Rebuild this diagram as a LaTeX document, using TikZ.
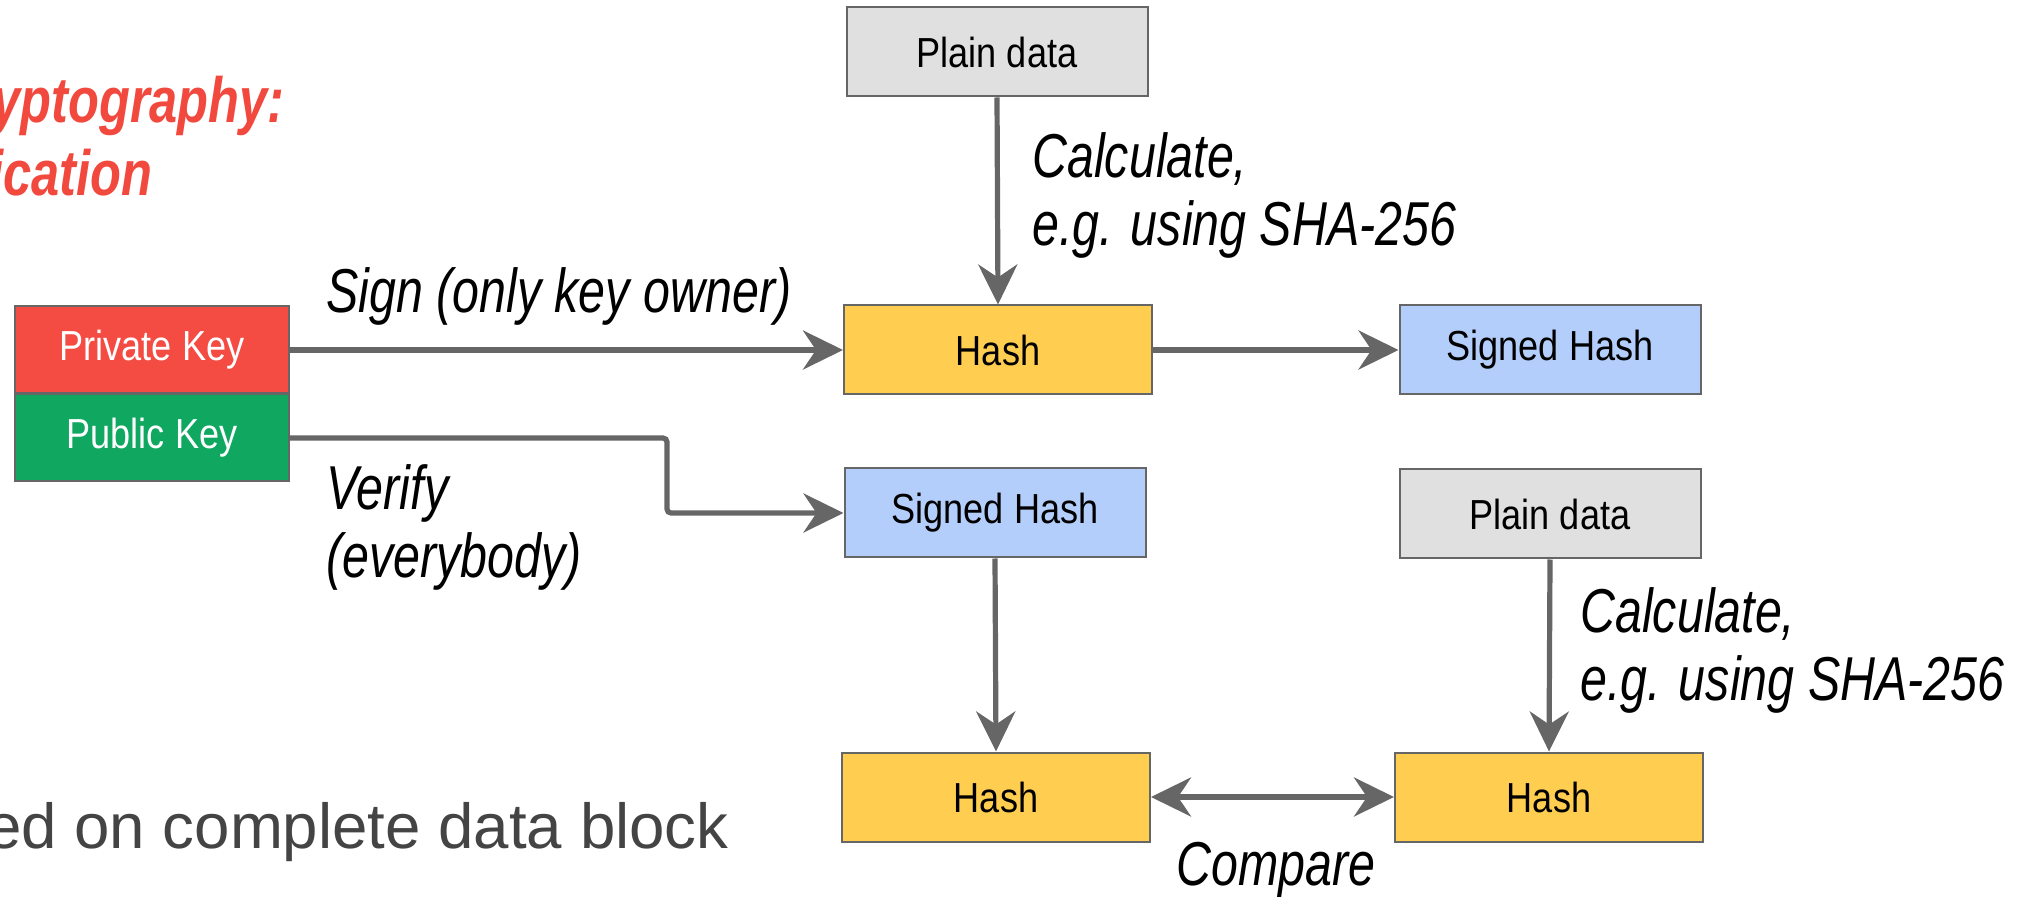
\documentclass[tikz,border=0pt]{standalone}
\usepackage{fontspec}
\setmainfont{Liberation Sans}
\newfontfamily\boxfont[FakeStretch=0.86]{Liberation Sans}
\newfontfamily\notefont[FakeStretch=0.78]{Liberation Sans}
\newfontfamily\headfont[FakeStretch=0.79]{Liberation Sans}
\usetikzlibrary{arrows.meta}
\definecolor{edgegray}{HTML}{666666}
\definecolor{hashyellow}{HTML}{FFCD4F}
\definecolor{signblue}{HTML}{B3CEFB}
\definecolor{datagray}{HTML}{E0E0E0}
\definecolor{keyred}{HTML}{F44C43}
\definecolor{keygreen}{HTML}{10A860}
\definecolor{headred}{HTML}{F2493F}
\definecolor{bodygray}{HTML}{444444}
\tikzset{
  box/.style={draw=edgegray, line width=1pt, minimum height=44.5pt, inner sep=0pt,
              font=\boxfont\fontsize{21}{24}\selectfont},
  hashbox/.style={box, fill=hashyellow, minimum width=154pt},
  signbox/.style={box, fill=signblue, minimum width=150.5pt},
  databox/.style={box, fill=datagray, minimum width=150.5pt},
  keybox/.style={box, text=white, minimum width=137pt, minimum height=43.5pt},
  flow/.style={draw=edgegray, line width=2.6pt,
               -{Stealth[length=20pt,width=19.5pt,inset=6.5pt]}},
  flowboth/.style={draw=edgegray, line width=2.6pt,
               {Stealth[length=20pt,width=19.5pt,inset=6.5pt]}-{Stealth[length=20pt,width=19.5pt,inset=6.5pt]}},
  note/.style={inner sep=0pt, align=left,
               font=\notefont\itshape\fontsize{31}{34}\selectfont},
  head/.style={inner sep=0pt, text=headred,
               font=\headfont\bfseries\itshape\fontsize{32}{37}\selectfont},
}
\begin{document}
\begin{tikzpicture}[x=0.5pt,y=-0.5pt]
\useasboundingbox (0,0) rectangle (2023,897);

% heading fragments and body text
\node[head, anchor=base east] (h1) at (285,123) {yptography:};
\node[head, anchor=base east] (h2) at (153,196) {ication};
\node[inner sep=0pt, anchor=base east, text=bodygray,
      font=\fontsize{31.8}{36}\selectfont] (body) at (729,848) {ed on complete data block};

% key pair
\node[keybox, fill=keyred]   (priv) at (152,350) {Private Key};
\node[keybox, fill=keygreen] (pub)  at (152,438) {Public Key};

% signing row
\node[databox] (pd1)   at (997,52)   {Plain data};
\node[hashbox] (hash1) at (998,350)  {Hash};
\node[signbox] (sh1)   at (1550,350) {Signed Hash};

% verification rows
\node[signbox] (sh2)   at (995,513)  {Signed Hash};
\node[databox] (pd2)   at (1550,514) {Plain data};
\node[hashbox] (hash2) at (996,797)  {Hash};
\node[hashbox] (hash3) at (1549,797) {Hash};

% connectors
\coordinate (bend) at (667,438);
\draw[flow] (priv.east) -- (hash1.west);
\draw[flow, rounded corners=2pt] (pub.east) -- (bend) |- (sh2.west);
\draw[flow] (pd1.south) -- (hash1.north);
\draw[flow] (hash1.east) -- (sh1.west);
\draw[flow] (sh2.south) -- (hash2.north);
\draw[flow] (pd2.south) -- (hash3.north);
\draw[flowboth] (hash2.east) -- (hash3.west);

% connector labels (two-line labels are placed by their last baseline)
\node[note, anchor=base west] (lsign) at (326,313) {Sign (only key owner)};
\node[note, anchor=base west] (lver) at (326,578) {Verify\\(everybody)};
\node[note, anchor=base west] (lcalc1) at (1032,246) {Calculate,\\e.g. using SHA-256};
\node[note, anchor=base west] (lcalc2) at (1580,700) {Calculate,\\e.g. using SHA-256};
\node[note, anchor=base] (lcmp) at (1276,885) {Compare};
\end{tikzpicture}
\end{document}
